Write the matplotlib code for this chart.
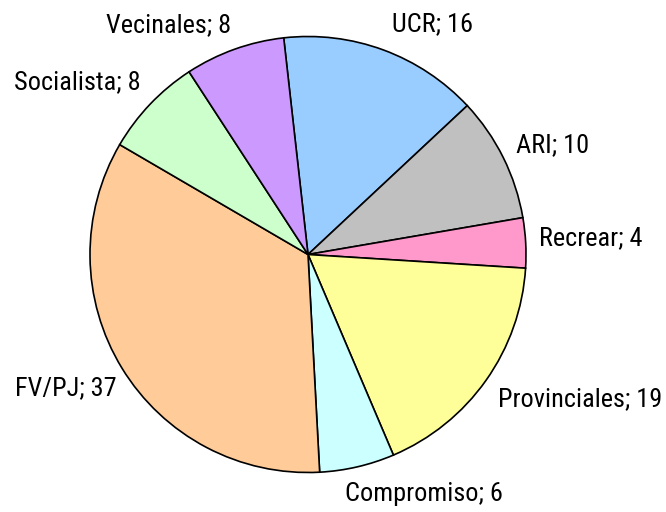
import matplotlib
matplotlib.use("Agg")
import matplotlib.pyplot as plt
from matplotlib import font_manager
from matplotlib.font_manager import FontProperties

categories = ["UCR", "ARI", "Recrear", "Provinciales", "Compromiso", "FV/PJ", "Socialista", "Vecinales"]
values = [16, 10, 4, 19, 6, 37, 8, 8]
colors = ["#99CCFF", "#C0C0C0", "#FF99CC", "#FFFF99", "#CCFFFF", "#FFCC99", "#CCFFCC", "#CC99FF"]
# label centres in pie-radius units (text placement)
label_pos = [(0.569, 1.057), (1.124, 0.502), (1.298, 0.076), (1.248, -0.663),
             (0.530, -1.099), (-1.110, -0.612), (-1.057, 0.791), (-0.640, 1.053)]

# pick a narrow font if one is installed, else a regular sans
fpath = None
prefs = ["Liberation Sans Narrow", "Arial Narrow", "Roboto Condensed", "Open Sans Condensed",
         "DejaVu Sans Condensed", "Noto Sans Condensed"]
entries = font_manager.fontManager.ttflist
for p in prefs:
    for f in entries:
        if f.name == p and f.weight in (400, "normal", "regular") and f.style == "normal":
            fpath = f.fname
            break
    if fpath:
        break
if fpath is None:
    for f in entries:
        if (f.name in ("DejaVu Sans", "Noto Sans", "Open Sans", "Roboto", "Liberation Sans")
                and str(f.stretch) in ("condensed", "semi-condensed", "extra-condensed", "75", "87")
                and f.style == "normal" and f.weight in (400, "normal", "regular")):
            fpath = f.fname
            break
if fpath is not None:
    base_fp = FontProperties(fname=fpath)
else:
    base_fp = FontProperties(family=["Liberation Sans", "DejaVu Sans"])

W, H = 666, 512
fig = plt.figure(figsize=(W / 100, H / 100), dpi=100)
cx, cy, R = 308, 254.5, 218
ax = fig.add_axes([(cx - R) / W, (H - cy - R) / H, 2 * R / W, 2 * R / H])
ax.pie(values, colors=colors, startangle=96.4, counterclock=False,
       wedgeprops=dict(edgecolor="black", linewidth=1.2))
ax.set_xlim(-1, 1)
ax.set_ylim(-1, 1)
ax.set_aspect("equal", adjustable="box")
ax.axis("off")

# size text so the widest label spans about 164 px, as in the reference
renderer = fig.canvas.get_renderer()
fp = base_fp.copy()
fp.set_size(20)
probe = fig.text(0, 0, "Provinciales; 19", fontproperties=fp)
wpx = probe.get_window_extent(renderer).width
probe.remove()
size = min(20.4, 20 * 164 / wpx)
fp.set_size(size)

for c, v, (x, y) in zip(categories, values, label_pos):
    ax.text(x, y, f"{c}; {v}", ha="center", va="center", fontproperties=fp,
            color="black", clip_on=False)

fig.savefig("out.png", dpi=100)
